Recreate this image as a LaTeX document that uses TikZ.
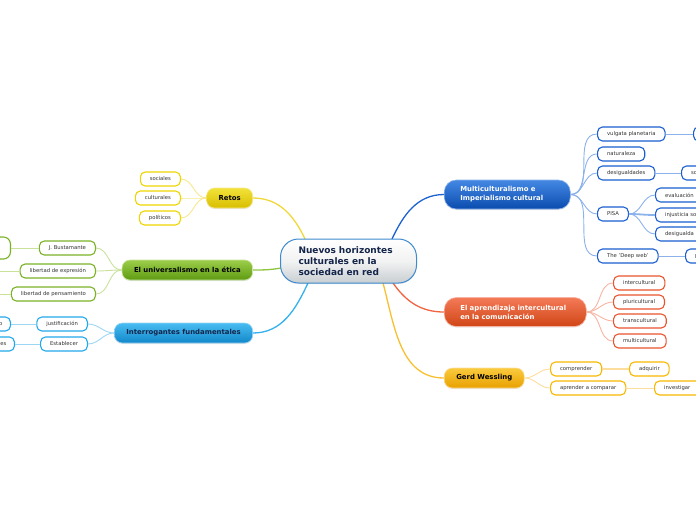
\documentclass[tikz,border=0pt]{standalone}
\usepackage{fontspec}
\setmainfont{DejaVu Sans}
\usetikzlibrary{shadows}
\definecolor{cBorder}{HTML}{3D8AD0}
\definecolor{cText}{HTML}{14254A}
\definecolor{cGray}{HTML}{C8CED2}
\definecolor{yTop}{HTML}{F2E23A}\definecolor{yBot}{HTML}{D8BE00}\definecolor{yLine}{HTML}{F0D83A}\definecolor{yLight}{HTML}{F6E88E}\definecolor{yBox}{HTML}{F0D400}
\definecolor{gTop}{HTML}{9CCE4A}\definecolor{gBot}{HTML}{5E9A12}\definecolor{gLine}{HTML}{8CC63F}\definecolor{gLight}{HTML}{C8E29C}\definecolor{gBox}{HTML}{7AB226}
\definecolor{cTop}{HTML}{48BDF2}\definecolor{cBot}{HTML}{1287CA}\definecolor{cLine}{HTML}{33B0EE}\definecolor{cLight}{HTML}{9CD6F4}\definecolor{cBox}{HTML}{22A8E8}
\definecolor{bTop}{HTML}{4488E4}\definecolor{bBot}{HTML}{0A4CAE}\definecolor{bLine}{HTML}{1E62D2}\definecolor{bLight}{HTML}{8CB2EC}\definecolor{bBox}{HTML}{1A5ED0}
\definecolor{rTop}{HTML}{F47A58}\definecolor{rBot}{HTML}{D04616}\definecolor{rLine}{HTML}{F06440}\definecolor{rLight}{HTML}{F8B4A2}\definecolor{rBox}{HTML}{E8542E}
\definecolor{oTop}{HTML}{FACB3E}\definecolor{oBot}{HTML}{E8A000}\definecolor{oLine}{HTML}{F8C030}\definecolor{oLight}{HTML}{FCDD9C}\definecolor{oBox}{HTML}{F8B800}
\begin{document}
\begin{tikzpicture}[x=1pt,y=-1pt,
  central/.style={draw=cBorder,line width=1pt,rounded corners=18pt,top color=white,bottom color=cGray,middle color=black!5,
    minimum height=44pt,inner xsep=18pt,text width=100pt,align=left,text=cText,
    font=\fontsize{9}{11}\selectfont\bfseries,drop shadow={shadow xshift=0pt,shadow yshift=-1pt,opacity=0.2}},
  mainnode/.style={rounded corners=8pt,minimum height=20pt,inner xsep=12pt,inner ysep=0pt,line width=0.6pt,
    font=\fontsize{6.9}{9}\selectfont\bfseries,drop shadow={shadow xshift=0pt,shadow yshift=-1pt,opacity=0.2}},
  twoline/.style={rounded corners=12pt,minimum height=29pt,inner xsep=16pt,align=left},
  mY/.style={mainnode,top color=yTop,bottom color=yBot,draw=yLight,text=black},
  mG/.style={mainnode,top color=gTop,bottom color=gBot,draw=gLight,text=black},
  mC/.style={mainnode,top color=cTop,bottom color=cBot,draw=cLight,text=cText},
  mB/.style={mainnode,twoline,top color=bTop,bottom color=bBot,draw=bLight,text=white,text width=94pt},
  mR/.style={mainnode,twoline,top color=rTop,bottom color=rBot,draw=rLight,text=white,text width=110pt},
  mO/.style={mainnode,top color=oTop,bottom color=oBot,draw=oLight,text=black},
  sub/.style={fill=white,line width=1.1pt,rounded corners=5pt,minimum height=14pt,inner xsep=9.5pt,inner ysep=0pt,
    text=black!80,font=\fontsize{5.3}{6.5}\selectfont},
  sY/.style={sub,draw=yBox},sG/.style={sub,draw=gBox},sC/.style={sub,draw=cBox},
  sB/.style={sub,draw=bBox},sR/.style={sub,draw=rBox},sO/.style={sub,draw=oBox},
  cutR/.style={text width=60pt,align=left},
  cutL/.style={text width=50pt,align=right},
  ml/.style={line width=1.3pt,draw=#1},
  sl/.style={line width=0.9pt,draw=#1},
]
\useasboundingbox (0,0) rectangle (696,520);
\clip (0,0) rectangle (696,520);

% ---------- main connector start points on the central node ----------
\coordinate (p1) at (392,239);
\coordinate (p2) at (305,239);
\coordinate (p3) at (281,268);
\coordinate (p4) at (308,283);
\coordinate (p5) at (393,283);
\coordinate (p6) at (383,283);

% ---------- nodes: main ----------
\node[mY,anchor=east] (retos) at (253,198) {Retos};
\node[mG,anchor=east] (univ) at (253,270) {El universalismo en la ética};
\node[mC,anchor=east] (inter) at (253,333) {Interrogantes fundamentales};
\node[mB,anchor=west] (multi) at (444,194.5) {Multiculturalismo e\\Imperialismo cultural};
\node[mR,anchor=west] (apren) at (444,312) {El aprendizaje intercultural\\en la comunicación};
\node[mO,anchor=west] (gerd) at (444,378) {Gerd Wessling};

\draw[ml=bLine] (p1) to[out=65,in=180] (multi.west);
\draw[ml=yLine] (p2) to[out=115,in=0] (retos.east);
\draw[ml=gLine] (p3) to[out=190,in=0] (univ.east);
\draw[ml=cLine] (p4) to[out=245,in=0] (inter.east);
\draw[ml=rLine] (p5) to[out=-55,in=180] (apren.west);
\draw[ml=oLine] (p6) to[out=-75,in=180] (gerd.west);

\node[central,anchor=west] (c) at (280,261) {Nuevos horizontes\\culturales en la\\sociedad en red};

% ---------- Retos ----------
\node[sY,anchor=east] (r1) at (181,179) {sociales};
\node[sY,anchor=east] (r2) at (181,198) {culturales};
\node[sY,anchor=east] (r3) at (181,218) {políticos};
\foreach \n in {r1,r2,r3} \draw[sl=yLight] (retos.west) to[out=180,in=0] (\n.east);

% ---------- Universalismo ----------
\node[sG,anchor=east] (u1) at (96,248) {J. Bustamante};
\node[sG,anchor=east] (u2) at (96,271) {libertad de expresión};
\node[sG,anchor=east] (u3) at (96,294) {libertad de pensamiento};
\foreach \n in {u1,u2,u3} \draw[sl=gLight] (univ.west) to[out=180,in=0] (\n.east);
\node[sG,anchor=east,minimum width=60pt,minimum height=22pt,rounded corners=7pt] (u1a) at (11,248) {};
\coordinate (u2a) at (-6,271);
\coordinate (u3a) at (-6,294);
\draw[sl=gLight] (u1.west) -- (u1a.east);
\draw[sl=gLight] (u2.west) -- (u2a);
\draw[sl=gLight] (u3.west) -- (u3a);

% ---------- Interrogantes ----------
\node[sC,anchor=east] (i1) at (88,324) {justificación};
\node[sC,anchor=east] (i2) at (88,344) {Establecer};
\foreach \n in {i1,i2} \draw[sl=cLight] (inter.west) to[out=180,in=0] (\n.east);
\node[sC,cutL,anchor=east,inner xsep=8pt] (i1a) at (11,324) {o};
\node[sC,cutL,anchor=east,inner xsep=8pt] (i2a) at (15,344) {es};
\draw[sl=cLight] (i1.west) -- (i1a.east);
\draw[sl=cLight] (i2.west) -- (i2a.east);

% ---------- Multiculturalismo ----------
\node[sB,anchor=west] (m1) at (597,134) {vulgata planetaria};
\node[sB,anchor=west] (m2) at (597,154) {naturaleza};
\node[sB,anchor=west] (m3) at (597,173) {desigualdades};
\node[sB,anchor=west] (m4) at (597,214) {PISA};
\node[sB,anchor=west] (m5) at (597,256) {The 'Deep web'};
\foreach \n in {m1,m2,m3,m4,m5} \draw[sl=bLight] (multi.east) to[out=0,in=180] (\n.west);
\node[sB,anchor=west,minimum width=40pt] (m1a) at (693,134) {};
\node[sB,cutR,anchor=west] (m3a) at (681,173) {so};
\node[sB,cutR,anchor=west] (m4a) at (655,195) {evaluación};
\node[sB,cutR,anchor=west] (m4b) at (655,215) {injusticia so};
\node[sB,cutR,anchor=west] (m4c) at (655,234) {desigualda};
\node[sB,cutR,anchor=west] (m5a) at (685,256) {l};
\draw[sl=bLight] (m1.east) -- (m1a.west);
\draw[sl=bLight] (m3.east) -- (m3a.west);
\draw[sl=bLight] (m5.east) -- (m5a.west);
\draw[sl=bLight] (m4.east) to[out=0,in=180] (m4a.west);
\draw[sl=bLight,line width=1.8pt] (m4.east) to[out=0,in=180] (m4b.west);
\draw[sl=bLight] (m4.east) to[out=0,in=180] (m4c.west);

% ---------- Aprendizaje ----------
\node[sR,anchor=west] (a1) at (613,283) {intercultural};
\node[sR,anchor=west] (a2) at (613,302) {pluricultural};
\node[sR,anchor=west] (a3) at (613,321) {transcultural};
\node[sR,anchor=west] (a4) at (613,341) {multicultural};
\foreach \n in {a1,a2,a3,a4} \draw[sl=rLight] (apren.east) to[out=0,in=180] (\n.west);

% ---------- Gerd Wessling ----------
\node[sO,anchor=west] (g1) at (550,369) {comprender};
\node[sO,anchor=west] (g2) at (550,388) {aprender a comparar};
\foreach \n in {g1,g2} \draw[sl=oLight] (gerd.east) to[out=0,in=180] (\n.west);
\node[sO,anchor=west] (g1a) at (629,369) {adquirir};
\node[sO,cutR,anchor=west] (g2a) at (654,388) {investigar};
\draw[sl=oLight,line width=2pt] (g1.east) -- (g1a.west);
\draw[sl=oLight] (g2.east) -- (g2a.west);
\end{tikzpicture}
\end{document}
